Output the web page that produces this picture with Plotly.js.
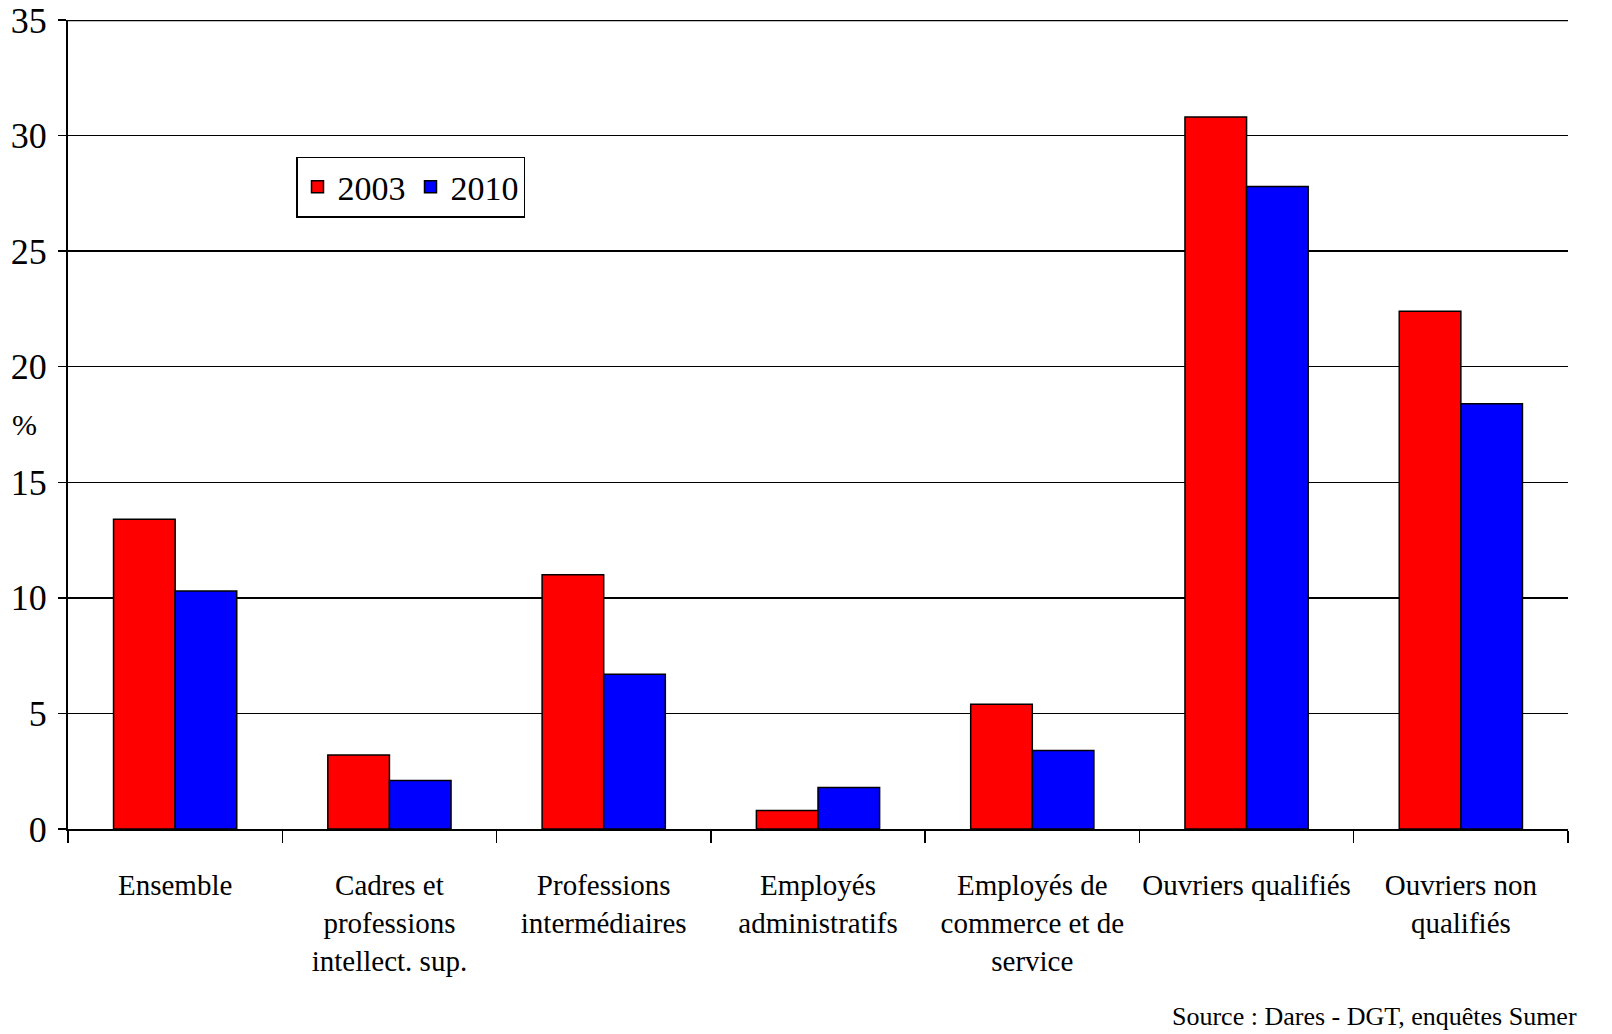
<!DOCTYPE html>
<html>
<head>
<meta charset="utf-8">
<script src="https://cdn.plot.ly/plotly-3.0.1.min.js"></script>
<style>html,body{margin:0;padding:0;background:#fff;}#chart{width:1612px;height:1034px;}</style>
</head>
<body>
<div id="chart"></div>
<script>
const categories = [
  "Ensemble",
  "Cadres et<br>professions<br>intellect. sup.",
  "Professions<br>intermédiaires",
  "Employés<br>administratifs",
  "Employés de<br>commerce et de<br>service",
  "Ouvriers qualifiés",
  "Ouvriers non<br>qualifiés"
];
const values2003 = [13.4, 3.2, 11.0, 0.8, 5.4, 30.8, 22.4];
const values2010 = [10.3, 2.1, 6.7, 1.8, 3.4, 27.8, 18.4];
const yTicks = [0, 5, 10, 15, 20, 25, 30, 35];

const serif = "Times New Roman";

const traces = [
  {type: "bar", name: "2003", x: categories, y: values2003,
   marker: {color: "#ff0000", line: {color: "#000", width: 1.5}}},
  {type: "bar", name: "2010", x: categories, y: values2010,
   marker: {color: "#0000ff", line: {color: "#000", width: 1.5}}}
];

const layout = {
  width: 1612, height: 1034,
  margin: {l: 68, r: 44, t: 20, b: 205, autoexpand: false},
  paper_bgcolor: "#fff", plot_bgcolor: "#fff",
  barmode: "group", bargap: 0.425, bargroupgap: 0,
  font: {family: serif, color: "#000", size: 28},
  showlegend: true,
  legend: {x: 0.152, y: 0.831, xanchor: "left", yanchor: "top",
           orientation: "h", bordercolor: "#000", borderwidth: 1.5,
           font: {family: serif, size: 34}, bgcolor: "#fff",
           itemwidth: 30, tracegroupgap: 0},
  xaxis: {type: "category", tickson: "boundaries", ticks: "outside",
          ticklen: 12, tickcolor: "#000", tickwidth: 1.5, tickangle: 0,
          automargin: false,
          showline: true, linecolor: "#000", linewidth: 1.5,
          tickfont: {family: serif, size: 29}, ticklabelstandoff: 30,
          showgrid: false, zeroline: false},
  yaxis: {range: [0, 35], tickvals: yTicks, ticks: "outside", ticklen: 8,
          tickcolor: "#000", tickwidth: 1.5, showline: true, automargin: false,
          linecolor: "#000", linewidth: 2, showgrid: true,
          gridcolor: "#000", gridwidth: 1.5, zeroline: false,
          tickfont: {family: serif, size: 36}, ticklabelstandoff: 4},
  annotations: [
    {text: "%", xref: "paper", yref: "y", x: (10 - 68) / 1500, xanchor: "left", y: 17.5,
     showarrow: false, font: {family: serif, size: 30}},
    {text: "Source : Dares - DGT, enquêtes Sumer", xref: "paper", yref: "paper",
     x: (1170 - 68) / 1500, y: -(1033 - 829) / 809, xanchor: "left", yanchor: "bottom",
     showarrow: false, font: {family: serif, size: 26}}
  ],
  shapes: [
    {type: "line", xref: "paper", yref: "y", x0: 0, x1: 1, y0: 35, y1: 35,
     line: {color: "#000", width: 2.5}}
  ]
};

Plotly.newPlot("chart", traces, layout, {displayModeBar: false, staticPlot: true});
</script>
</body>
</html>
